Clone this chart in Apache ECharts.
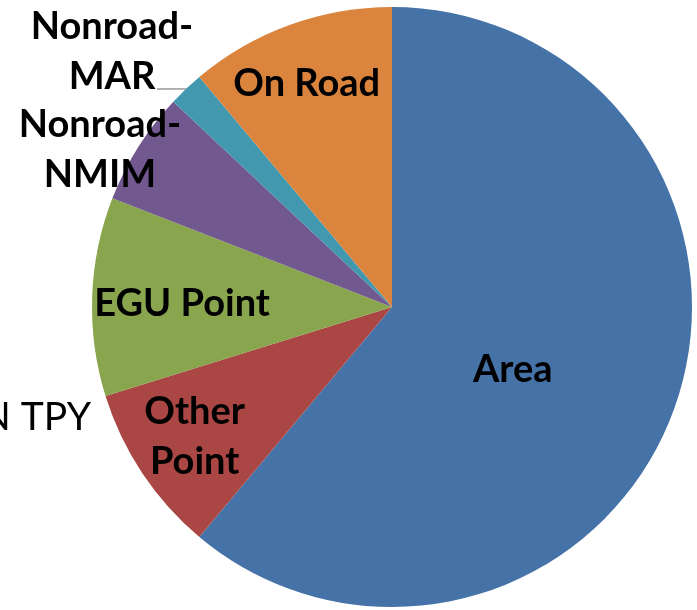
<!DOCTYPE html>
<html><head><meta charset="utf-8">
<script src="https://cdn.jsdelivr.net/npm/echarts@6/dist/echarts.min.js"></script>
<style>html,body{margin:0;padding:0;background:#fff}#c{width:697px;height:610px}</style>
</head><body><div id="c"></div>
<script>
const categories = ['Area', 'Other\nPoint', 'EGU Point', 'Nonroad-\nNMIM', 'Nonroad-\nMAR', 'On Road'];
const values = [61.1, 9.1, 10.7, 6.1, 1.9, 11.1];
const colors = ['#4572A7', '#AA4643', '#89A54E', '#71588F', '#4198AF', '#DB843D'];
const titleText = 'N TPY';

const insideOffsets = {0: [-23, 10], 1: [-70, 45], 2: [-57, 2], 5: [-33, -79]};
const outsidePos = {3: [100, 150], 4: [112, 52]};

const chart = echarts.init(document.getElementById('c'));
chart.setOption({
  animation: false,
  graphic: [{
    type: 'text', right: 697 - 91, top: 398,
    style: { text: titleText, font: '39px Lato', fill: '#000', textAlign: 'right' }
  }],
  series: [{
    type: 'pie',
    center: [392, 307],
    radius: 300,
    startAngle: 90,
    clockwise: true,
    avoidLabelOverlap: false,
    label: { fontFamily: 'Lato', fontWeight: 'bold', fontSize: 38, color: '#000', lineHeight: 50 },
    data: categories.map((c, i) => {
      const d = { name: c, value: values[i], itemStyle: { color: colors[i] } };
      if (insideOffsets[i]) {
        d.label = { position: 'inside', offset: insideOffsets[i], align: 'center' };
        d.labelLine = { show: false };
      } else {
        d.label = { position: 'outside', align: 'center' };
        d.labelLine = { show: i === 4, length: 10, length2: 10, lineStyle: { color: '#666', width: 1 } };
      }
      return d;
    }),
    labelLayout: function (p) {
      const pos = outsidePos[p.dataIndex];
      if (!pos) return {};
      const out = { x: pos[0], y: pos[1], align: 'center', verticalAlign: 'middle' };
      if (p.labelLinePoints) {
        const start = p.labelLinePoints[0];
        const end = [pos[0] + 45, pos[1] + 37];
        out.labelLinePoints = [start, end, end];
      }
      return out;
    }
  }]
});
</script></body></html>
